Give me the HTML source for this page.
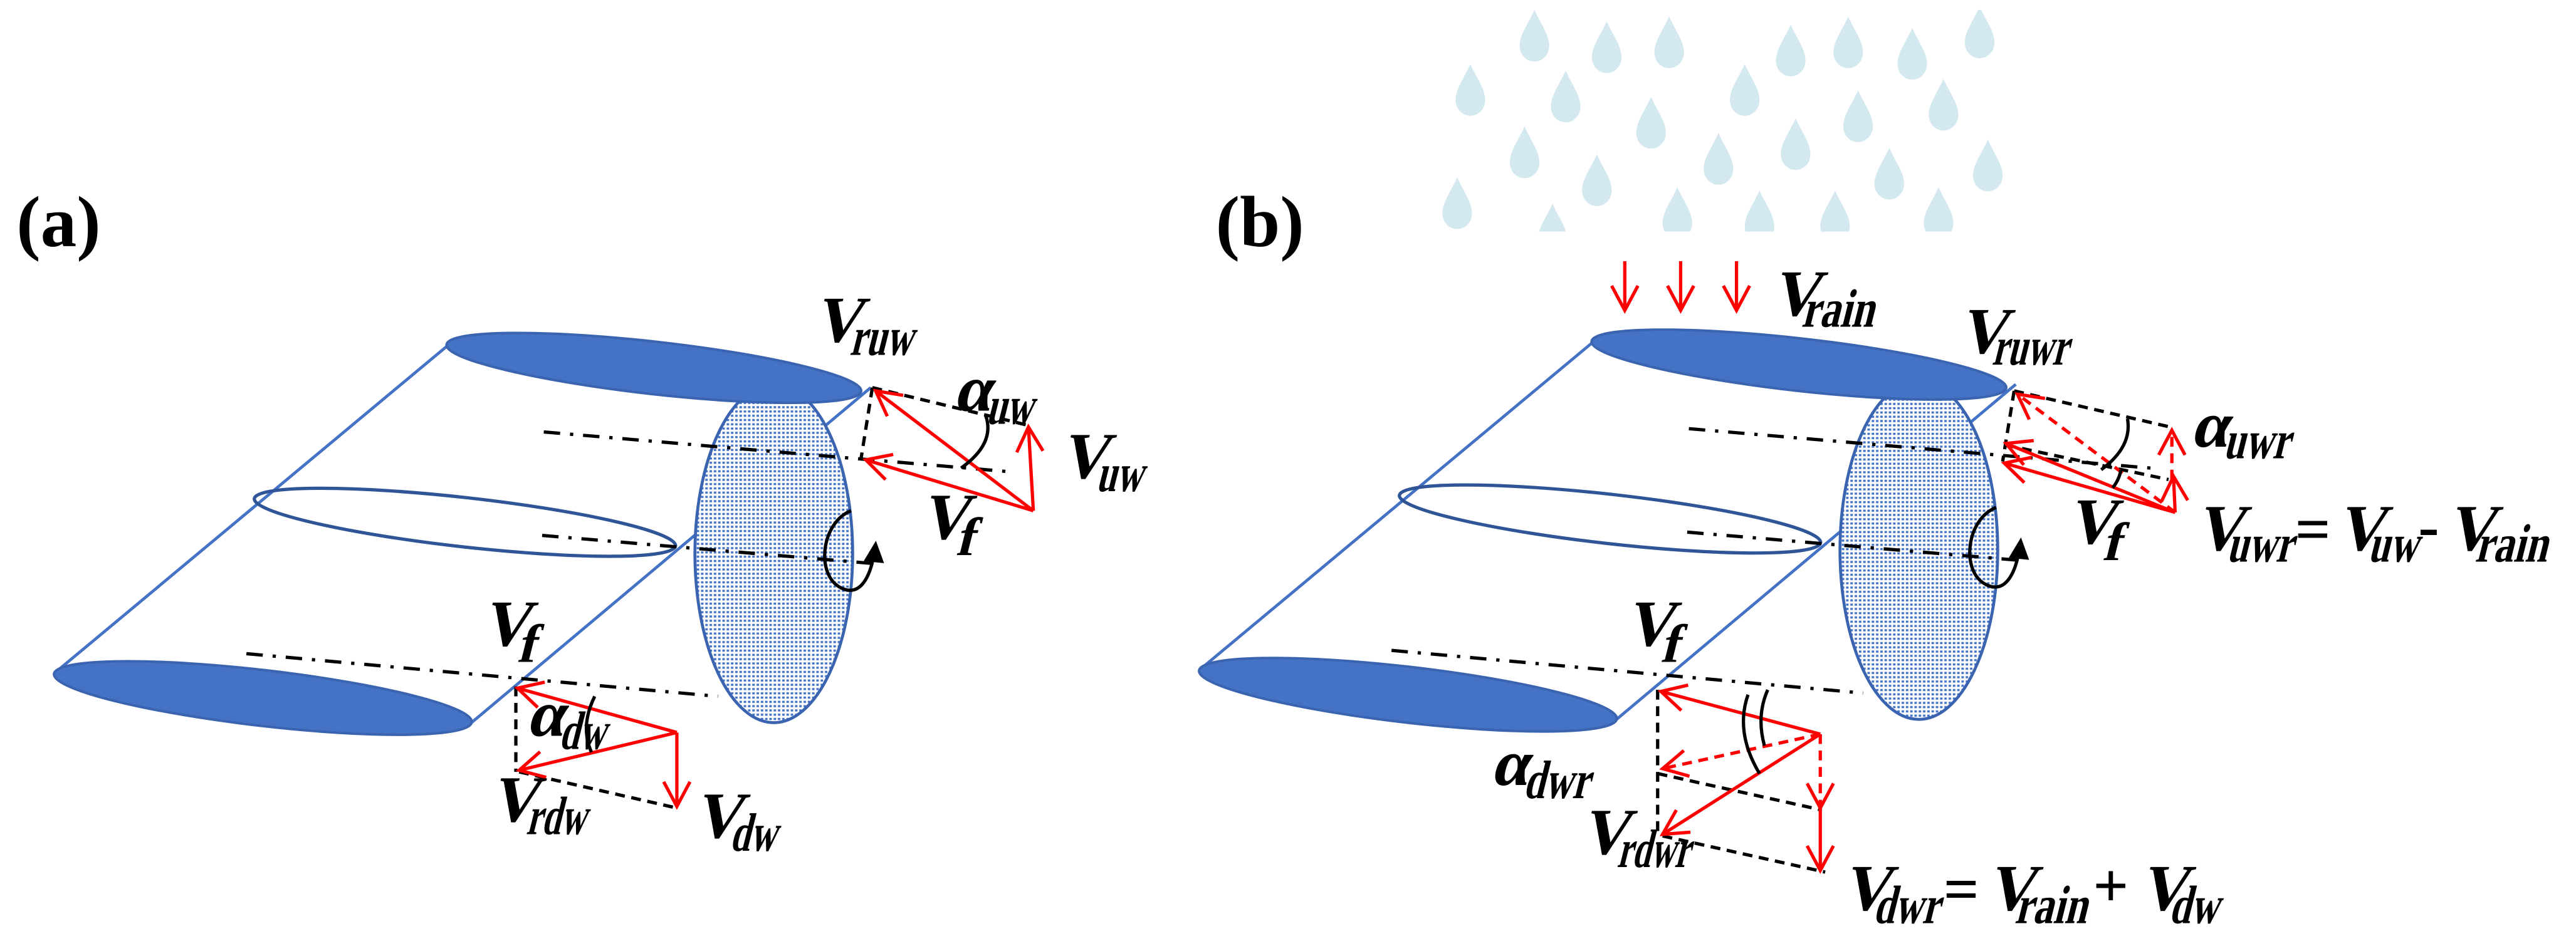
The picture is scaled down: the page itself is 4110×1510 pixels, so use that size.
<!DOCTYPE html>
<html><head><meta charset="utf-8"><style>
html,body{margin:0;padding:0;background:#fff;}
svg{display:block;}
.t{font-family:"Liberation Serif","DejaVu Serif",serif;font-weight:bold;font-style:normal;fill:#000;}
.v{font-size:40px;}
.s{font-size:33px;}
.p{font-family:"Liberation Serif",serif;font-weight:bold;font-size:44px;fill:#000;}
.op{font-family:"Liberation Serif",serif;font-weight:bold;font-size:38px;fill:#000;}
</style></head><body>
<svg width="4110" height="1510" viewBox="0 0 1568 576" preserveAspectRatio="none" xmlns="http://www.w3.org/2000/svg">
<defs>
<marker id="ah" markerUnits="userSpaceOnUse" markerWidth="30" markerHeight="30" refX="0" refY="0" viewBox="-20 -15 30 30" orient="auto" overflow="visible">
<path d="M-15,-8 L0,0 L-15,8" fill="none" stroke="#ff0000" stroke-width="2"/>
</marker>
<pattern id="dots" width="2.6" height="2.6" patternUnits="userSpaceOnUse">
<rect width="2.6" height="2.6" fill="#ffffff"/>
<rect x="0.3" y="0.3" width="1.5" height="1.3" fill="#4472C4"/>
</pattern>
<clipPath id="rc"><rect x="860" y="6" width="380" height="135"/></clipPath>
<g id="drop"><path d="M0,-16 C4,-7 9,-1 9,6 A9,9.5 0 0 1 -9,6 C-9,-1 -4,-7 0,-16Z" fill="#d4e8f0"/></g>
</defs>
<rect width="1568" height="576" fill="#fff"/>

<text class="p" x="10" y="150">(a)</text>
<text class="p" x="740" y="150">(b)</text>

<g clip-path="url(#rc)">
<use href="#drop" x="934" y="22"/><use href="#drop" x="978" y="29"/><use href="#drop" x="1016" y="26"/>
<use href="#drop" x="1090" y="31"/><use href="#drop" x="1125" y="26"/><use href="#drop" x="1164" y="33"/>
<use href="#drop" x="1205" y="20"/><use href="#drop" x="895" y="55"/><use href="#drop" x="953" y="59"/>
<use href="#drop" x="1062" y="55"/><use href="#drop" x="1183" y="64"/><use href="#drop" x="1005" y="75"/>
<use href="#drop" x="1131" y="71"/><use href="#drop" x="928" y="93"/><use href="#drop" x="1093" y="88"/>
<use href="#drop" x="1046" y="97"/><use href="#drop" x="1150" y="106"/><use href="#drop" x="1210" y="101"/>
<use href="#drop" x="972" y="110"/><use href="#drop" x="887" y="124"/><use href="#drop" x="945" y="140"/>
<use href="#drop" x="1021" y="130"/><use href="#drop" x="1071" y="132"/><use href="#drop" x="1117" y="132"/>
<use href="#drop" x="1180" y="130"/>
</g>

<g id="cyl">
<line x1="273" y1="210" x2="33" y2="410" stroke="#4472C4" stroke-width="1.8"/>
<line x1="530" y1="236" x2="287" y2="440" stroke="#4472C4" stroke-width="1.8"/>
<ellipse cx="471" cy="337" rx="48" ry="103" fill="url(#dots)" stroke="#3a63b0" stroke-width="1.8"/>
<ellipse cx="398" cy="224" rx="127" ry="16" transform="rotate(6.4 398 224)" fill="#4472C4" stroke="#3a63b0" stroke-width="1.5"/>
<ellipse cx="283" cy="318" rx="129" ry="15" transform="rotate(6.4 283 318)" fill="none" stroke="#2f5597" stroke-width="2"/>
<ellipse cx="160" cy="425" rx="128" ry="17" transform="rotate(6.6 160 425)" fill="#4472C4" stroke="#3a63b0" stroke-width="1.5"/>
<g stroke="#000" stroke-width="2" stroke-dasharray="10 6 2 6" fill="none">
<line x1="331" y1="263" x2="612" y2="287"/>
<line x1="330" y1="326" x2="530" y2="343"/>
<line x1="150" y1="398" x2="437" y2="424"/>
</g>
<path d="M518,311 C500,318 496,350 512,358 C524,364 530,350 532,337" fill="none" stroke="#000" stroke-width="2"/>
<path d="M527,341 L533,331 L537,342 Z" fill="#000" stroke="#000" stroke-width="1.5"/>
</g>

<use href="#cyl" x="697" y="-2"/>

<g stroke="#000" stroke-width="2" stroke-dasharray="6 4" fill="none">
<line x1="531" y1="236" x2="626" y2="259"/>
<line x1="531" y1="236" x2="524" y2="280"/>
</g>
<g stroke="#ff0000" stroke-width="2" fill="none">
<line x1="629" y1="311" x2="533" y2="238" marker-end="url(#ah)"/>
<line x1="629" y1="311" x2="527" y2="280" marker-end="url(#ah)"/>
<line x1="629" y1="311" x2="626" y2="260" marker-end="url(#ah)"/>
</g>
<path d="M600,253 Q606,270 585,285" fill="none" stroke="#000" stroke-width="2"/>

<g stroke="#000" stroke-width="2" stroke-dasharray="6 4" fill="none">
<line x1="314" y1="418" x2="314" y2="470"/>
<line x1="316" y1="470" x2="412" y2="492"/>
</g>
<g stroke="#ff0000" stroke-width="2" fill="none">
<line x1="412" y1="446" x2="315" y2="419" marker-end="url(#ah)"/>
<line x1="412" y1="446" x2="316" y2="469" marker-end="url(#ah)"/>
<line x1="412" y1="446" x2="412" y2="491" marker-end="url(#ah)"/>
</g>
<path d="M362,424 Q353,442 360,458" fill="none" stroke="#000" stroke-width="2"/>

<g stroke="#ff0000" stroke-width="2" fill="none">
<line x1="989" y1="159" x2="989" y2="189" marker-end="url(#ah)"/>
<line x1="1023" y1="159" x2="1023" y2="189" marker-end="url(#ah)"/>
<line x1="1057" y1="159" x2="1057" y2="189" marker-end="url(#ah)"/>
</g>

<g stroke="#000" stroke-width="2" stroke-dasharray="6 4" fill="none">
<line x1="1226" y1="238" x2="1321" y2="260"/>
<line x1="1226" y1="238" x2="1219" y2="281"/>
<line x1="1221" y1="271" x2="1320" y2="292"/>
</g>
<g stroke="#ff0000" stroke-width="2" fill="none">
<line x1="1324" y1="312" x2="1228" y2="240" stroke-dasharray="6 4" marker-end="url(#ah)"/>
<line x1="1322" y1="292" x2="1322" y2="262" stroke-dasharray="6 4" marker-end="url(#ah)"/>
<line x1="1324" y1="312" x2="1221" y2="270" marker-end="url(#ah)"/>
<line x1="1324" y1="312" x2="1220" y2="282" marker-end="url(#ah)"/>
<line x1="1324" y1="312" x2="1323" y2="290" marker-end="url(#ah)"/>
</g>
<path d="M1295,255 Q1298,272 1279,286" fill="none" stroke="#000" stroke-width="2"/>
<path d="M1291,286 Q1290,292 1286,297" fill="none" stroke="#000" stroke-width="2"/>

<g stroke="#000" stroke-width="2" stroke-dasharray="6 4" fill="none">
<line x1="1009" y1="420" x2="1009" y2="507"/>
<line x1="1009" y1="471" x2="1108" y2="493"/>
<line x1="1012" y1="509" x2="1111" y2="531"/>
</g>
<g stroke="#ff0000" stroke-width="2" fill="none">
<line x1="1108" y1="447" x2="1011" y2="421" marker-end="url(#ah)"/>
<line x1="1108" y1="447" x2="1012" y2="468" stroke-dasharray="6 4" marker-end="url(#ah)"/>
<line x1="1108" y1="447" x2="1108" y2="492" stroke-dasharray="6 4" marker-end="url(#ah)"/>
<line x1="1108" y1="447" x2="1012" y2="508" marker-end="url(#ah)"/>
<line x1="1108" y1="492" x2="1108" y2="530" marker-end="url(#ah)"/>
</g>
<path d="M1064,423 Q1056,446 1071,471" fill="none" stroke="#000" stroke-width="2"/>
<path d="M1076,420 Q1069,436 1074,454" fill="none" stroke="#000" stroke-width="2"/>

<!-- Labels (a) -->
<g transform="translate(495,208) skewX(-14)"><text class="t v">V</text><text class="t s" x="24" y="8" textLength="38" lengthAdjust="spacingAndGlyphs">ruw</text></g>
<g transform="translate(580,250) skewX(-14)"><text class="t v">α</text><text class="t s" x="22" y="8" textLength="28" lengthAdjust="spacingAndGlyphs">uw</text></g>
<g transform="translate(645,291) skewX(-14)"><text class="t v">V</text><text class="t s" x="24" y="8" textLength="28" lengthAdjust="spacingAndGlyphs">uw</text></g>
<g transform="translate(560,328) skewX(-14)"><text class="t v">V</text><text class="t s" x="24" y="10">f</text></g>
<g transform="translate(293,393) skewX(-14)"><text class="t v">V</text><text class="t s" x="24" y="10">f</text></g>
<g transform="translate(320,448) skewX(-14)"><text class="t v">α</text><text class="t s" x="22" y="8" textLength="28" lengthAdjust="spacingAndGlyphs">dw</text></g>
<g transform="translate(298,500) skewX(-14)"><text class="t v">V</text><text class="t s" x="24" y="8" textLength="36" lengthAdjust="spacingAndGlyphs">rdw</text></g>
<g transform="translate(422,510) skewX(-14)"><text class="t v">V</text><text class="t s" x="24" y="8" textLength="28" lengthAdjust="spacingAndGlyphs">dw</text></g>

<!-- Labels (b) -->
<g transform="translate(1078,192) skewX(-14)"><text class="t v">V</text><text class="t s" x="20" y="7" textLength="44" lengthAdjust="spacingAndGlyphs">rain</text></g>
<g transform="translate(1192,215) skewX(-14)"><text class="t v">V</text><text class="t s" x="22" y="7" textLength="46" lengthAdjust="spacingAndGlyphs">ruwr</text></g>
<g transform="translate(1333,272) skewX(-14)"><text class="t v">α</text><text class="t s" x="22" y="7" textLength="40" lengthAdjust="spacingAndGlyphs">uwr</text></g>
<g transform="translate(1258,331) skewX(-14)"><text class="t v">V</text><text class="t s" x="24" y="10">f</text></g>
<g transform="translate(1336,335) skewX(-14)"><text class="t v">V</text><text class="t s" x="21" y="7" textLength="40" lengthAdjust="spacingAndGlyphs">uwr</text></g>
<text class="op" x="1397" y="335">=</text>
<g transform="translate(1422,335) skewX(-14)"><text class="t v">V</text><text class="t s" x="21" y="7" textLength="30" lengthAdjust="spacingAndGlyphs">uw</text></g>
<text class="op" x="1472" y="333">-</text>
<g transform="translate(1489,335) skewX(-14)"><text class="t v">V</text><text class="t s" x="19" y="7" textLength="44" lengthAdjust="spacingAndGlyphs">rain</text></g>
<g transform="translate(989,393) skewX(-14)"><text class="t v">V</text><text class="t s" x="24" y="10">f</text></g>
<g transform="translate(907,478) skewX(-14)"><text class="t v">α</text><text class="t s" x="22" y="8" textLength="40" lengthAdjust="spacingAndGlyphs">dwr</text></g>
<g transform="translate(962,520) skewX(-14)"><text class="t v">V</text><text class="t s" x="24" y="8" textLength="44" lengthAdjust="spacingAndGlyphs">rdwr</text></g>
<g transform="translate(1121,554) skewX(-14)"><text class="t v">V</text><text class="t s" x="21" y="8" textLength="40" lengthAdjust="spacingAndGlyphs">dwr</text></g>
<text class="op" x="1183" y="554">=</text>
<g transform="translate(1209,554) skewX(-14)"><text class="t v">V</text><text class="t s" x="19" y="8" textLength="44" lengthAdjust="spacingAndGlyphs">rain</text></g>
<text class="op" x="1274" y="552">+</text>
<g transform="translate(1302,554) skewX(-14)"><text class="t v">V</text><text class="t s" x="20" y="8" textLength="30" lengthAdjust="spacingAndGlyphs">dw</text></g>
</svg>
</body></html>
